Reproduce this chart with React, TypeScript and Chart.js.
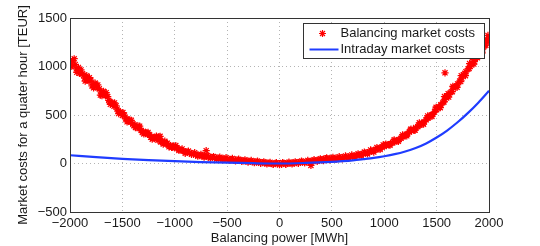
import React, { useEffect, useRef } from "react";
import { Chart, registerables } from "chart.js";

Chart.register(...registerables);

// ---- Data ----
const seriesNames = ["Balancing market costs", "Intraday market costs"];
const xTitle = "Balancing power [MWh]";
const yTitle = "Market costs for a quater hour [TEUR]";
const xTicks = [-2000, -1500, -1000, -500, 0, 500, 1000, 1500, 2000];
const yTicks = [-500, 0, 500, 1000, 1500];

const balancingPower = [
  -2000, -1980, -1960, -1940, -1920, -1900, -1880, -1860, -1840, -1820,
  -1800, -1780, -1760, -1740, -1720, -1700, -1680, -1660, -1640, -1620,
  -1600, -1580, -1560, -1540, -1520, -1500, -1480, -1460, -1440, -1420,
  -1400, -1380, -1360, -1340, -1320, -1300, -1280, -1260, -1240, -1220,
  -1200, -1180, -1160, -1140, -1120, -1100, -1080, -1060, -1040, -1020,
  -1000, -980, -960, -940, -920, -900, -880, -860, -840, -820,
  -800, -780, -760, -740, -720, -700, -680, -660, -640, -620,
  -600, -580, -560, -540, -520, -500, -480, -460, -440, -420,
  -400, -380, -360, -340, -320, -300, -280, -260, -240, -220,
  -200, -180, -160, -140, -120, -100, -80, -60, -40, -20,
  0, 20, 40, 60, 80, 100, 120, 140, 160, 180,
  200, 220, 240, 260, 280, 300, 320, 340, 360, 380,
  400, 420, 440, 460, 480, 500, 520, 540, 560, 580,
  600, 620, 640, 660, 680, 700, 720, 740, 760, 780,
  800, 820, 840, 860, 880, 900, 920, 940, 960, 980,
  1000, 1020, 1040, 1060, 1080, 1100, 1120, 1140, 1160, 1180,
  1200, 1220, 1240, 1260, 1280, 1300, 1320, 1340, 1360, 1380,
  1400, 1420, 1440, 1460, 1480, 1500, 1520, 1540, 1560, 1580,
  1600, 1620, 1640, 1660, 1680, 1700, 1720, 1740, 1760, 1780,
  1800, 1820, 1840, 1860, 1880, 1900, 1920, 1940, 1960, 1980,
  2000,
  -1990, -1950, -1910, -1870, -1830, -1790, -1750, -1710, -1670, -1630,
  -1590, -1550, -1510, -1470, -1430, -1390, -1350, -1310, -1270, -1230,
  -1190, -1150, -1110, -1070, -1030,
  1010, 1050, 1090, 1130, 1170, 1210, 1250, 1290, 1330, 1370,
  1410, 1450, 1490, 1530, 1570, 1610, 1650, 1690, 1730, 1770,
  1810, 1850, 1890, 1930, 1970,
  -1975, -1935, -1895, -1855, -1815, -1775, -1735, -1695, -1655, -1615,
  -1575, -1535, -1495, -1455, -1415, -1375, -1335, -1295, -1255, -1215,
  -1175, -1135, -1095, -1055, -1015,
  1015, 1055, 1095, 1135, 1175, 1215, 1255, 1295, 1335, 1375,
  1415, 1455, 1495, 1535, 1575, 1615, 1655, 1695, 1735, 1775,
  1815, 1855, 1895, 1935, 1975,
  -990, -960, -930, -900, -870, -840, -810, -780, -750, -720,
  -690, -660, -630, -600, -570, -540, -510, -480, -450, -420,
  -390, -360, -330, -300, -270, -240, -210, -180, -150, -120,
  -90, -60, -30, 0, 30, 60, 90, 120, 150, 180,
  210, 240, 270, 300, 330, 360, 390, 420, 450, 480,
  510, 540, 570, 600, 630, 660, 690, 720, 750, 780,
  810, 840, 870, 900, 930, 960, 990,
  -700, 300, 1580, -1140, 1990,
];

const balancingCost = [
  1050, 1010, 1080, 975, 990, 935, 925, 880, 905, 850,
  860, 815, 830, 780, 770, 735, 745, 700, 690, 640,
  625, 590, 595, 545, 530, 495, 500, 460, 445, 425,
  405, 400, 370, 365, 340, 330, 320, 300, 295, 275,
  265, 270, 240, 255, 225, 210, 205, 190, 185, 170,
  160, 165, 145, 140, 130, 120, 118, 108, 105, 95,
  92, 88, 80, 82, 75, 72, 70, 65, 62, 58,
  56, 55, 50, 52, 46, 45, 44, 40, 38, 37,
  34, 32, 30, 28, 26, 24, 22, 19, 17, 15,
  13, 10, 8, 6, 5, 3, 0, -5, 2, -3,
  0, -8, 2, -4, 5, 3, 6, 4, 9, 8,
  12, 14, 10, 18, 20, 22, 28, 30, 32, 35,
  38, 45, 50, 47, 52, 48, 50, 55, 52, 58,
  60, 62, 65, 68, 72, 75, 80, 85, 88, 95,
  100, 108, 112, 120, 128, 135, 142, 150, 160, 170,
  180, 185, 195, 205, 215, 222, 235, 245, 260, 275,
  290, 305, 325, 335, 350, 370, 380, 395, 410, 430,
  450, 470, 490, 505, 530, 555, 585, 605, 630, 660,
  690, 715, 740, 780, 790, 820, 850, 880, 915, 945,
  975, 1000, 1035, 1050, 1095, 1120, 1150, 1180, 1215, 1250,
  1290,
  1000, 1020, 930, 910, 865, 800, 800, 705, 710, 650,
  620, 560, 520, 460, 450, 390, 385, 320, 315, 270,
  255, 275, 200, 210, 165,
  190, 195, 230, 238, 275, 300, 345, 345, 395, 415,
  470, 500, 560, 580, 635, 720, 740, 800, 845, 930,
  980, 1070, 1090, 1170, 1220,
  1060, 940, 965, 850, 885, 780, 810, 700, 730, 610,
  625, 515, 525, 430, 445, 370, 385, 305, 320, 250,
  282, 222, 230, 172, 182,
  200, 188, 245, 228, 295, 285, 355, 345, 420, 405,
  490, 485, 580, 575, 690, 685, 795, 785, 905, 905,
  1030, 1025, 1150, 1140, 1275,
  185, 135, 150, 105, 128, 95, 112, 75, 95, 65,
  82, 55, 72, 45, 65, 40, 60, 35, 52, 28,
  45, 22, 38, 15, 32, 8, 25, 2, 18, -5,
  12, -10, 8, -12, 10, -8, 14, -4, 18, 2,
  25, 8, 32, 14, 40, 22, 48, 30, 58, 38,
  64, 42, 70, 48, 78, 55, 88, 66, 100, 80,
  118, 98, 140, 118, 165, 145, 192,
  132, -20, 935, 280, 1320,
];

const intradayPower = [
  -2000, -1750, -1500, -1250, -1000, -750, -500, -250, 0, 250, 500, 600,
  700, 800, 900, 1000, 1100, 1200, 1300, 1400, 1500, 1600, 1700, 1800,
  1900, 2000,
];
const intradayCost = [
  85, 65, 48, 35, 24, 15, 8, 3, 0, 6, 17, 24,
  33, 45, 58, 75, 96, 124, 160, 207, 268, 340, 425, 522,
  630, 750,
];

// ---- Styling ----
const FONT = "'Liberation Sans', Arial, Helvetica, sans-serif";
const RED = "#ff0000";
const BLUE = "#1f3cff";
const AXIS = "#333333";
const TEXT = "#1a1a1a";

const fmt = (v: number) => (v < 0 ? "\u2212" + Math.abs(v) : String(v));

const boxPlugin = {
  id: "boxAndLegend",
  afterDraw(chart: any) {
    const { ctx, chartArea } = chart;
    const { left, top, right, bottom } = chartArea;
    ctx.save();
    ctx.strokeStyle = AXIS;
    ctx.lineWidth = 1;
    ctx.setLineDash([]);
    ctx.strokeRect(
      Math.round(left) + 0.5,
      Math.round(top) + 0.5,
      Math.round(right - left),
      Math.round(bottom - top)
    );
    const w = 181;
    const h = 35;
    const lx = Math.round(right) - 5 - w + 0.5;
    const ly = Math.round(top) + 5 + 0.5;
    ctx.fillStyle = "#ffffff";
    ctx.fillRect(lx, ly, w, h);
    ctx.strokeStyle = AXIS;
    ctx.strokeRect(lx, ly, w, h);

    const y1 = ly + 10;
    const y2 = ly + 26;
    const cx = lx + 19;
    const r = 3.5;
    ctx.strokeStyle = RED;
    ctx.lineWidth = 1.2;
    ctx.beginPath();
    for (let k = 0; k < 4; k++) {
      const a = (k * Math.PI) / 4;
      ctx.moveTo(cx - r * Math.cos(a), y1 - r * Math.sin(a));
      ctx.lineTo(cx + r * Math.cos(a), y1 + r * Math.sin(a));
    }
    ctx.stroke();
    ctx.strokeStyle = BLUE;
    ctx.lineWidth = 2;
    ctx.beginPath();
    ctx.moveTo(lx + 6, y2);
    ctx.lineTo(lx + 35, y2);
    ctx.stroke();

    ctx.fillStyle = TEXT;
    ctx.font = `13px ${FONT}`;
    ctx.textBaseline = "middle";
    ctx.textAlign = "left";
    ctx.fillText(seriesNames[0], lx + 37, y1);
    ctx.fillText(seriesNames[1], lx + 37, y2);
    ctx.restore();
  },
};

export default function App() {
  const ref = useRef<HTMLCanvasElement | null>(null);

  useEffect(() => {
    if (!ref.current) return;
    const chart = new Chart(ref.current, {
      type: "scatter",
      data: {
        datasets: [
          {
            label: seriesNames[1],
            data: intradayPower.map((x, i) => ({ x, y: intradayCost[i] })),
            showLine: true,
            borderColor: BLUE,
            backgroundColor: BLUE,
            borderWidth: 2.2,
            pointRadius: 0,
            cubicInterpolationMode: "monotone",
            order: 1,
          } as any,
          {
            label: seriesNames[0],
            data: balancingPower.map((x, i) => ({ x, y: balancingCost[i] })),
            showLine: false,
            pointStyle: "star",
            pointRadius: 3.6,
            borderColor: RED,
            backgroundColor: RED,
            borderWidth: 1.25,
            order: 2,
          } as any,
        ],
      },
      options: {
        animation: false,
        responsive: true,
        maintainAspectRatio: false,
        layout: { padding: { left: 0, top: 18, right: 51, bottom: 0 } },
        plugins: {
          legend: { display: false },
          tooltip: { enabled: false },
        },
        scales: {
          x: {
            type: "linear",
            min: -2000,
            max: 2000,
            afterBuildTicks: (s: any) => {
              s.ticks = xTicks.map((v) => ({ value: v }));
            },
            afterFit: (s: any) => {
              s.height = 34;
            },
            ticks: {
              autoSkip: false,
              maxRotation: 0,
              padding: 4,
              color: TEXT,
              font: { family: FONT, size: 13 },
              callback: (v: any) => fmt(Number(v)),
            },
            grid: {
              color: "#b4b4b4",
              lineWidth: 1,
              drawTicks: false,
            },
            border: { display: false, dash: [1, 3] },
            title: {
              display: true,
              text: xTitle,
              color: TEXT,
              font: { family: FONT, size: 13 },
              padding: { top: 0, bottom: 0 },
            },
          },
          y: {
            type: "linear",
            min: -500,
            max: 1500,
            afterBuildTicks: (s: any) => {
              s.ticks = yTicks.map((v) => ({ value: v }));
            },
            afterFit: (s: any) => {
              s.width = 70;
            },
            ticks: {
              autoSkip: false,
              padding: 3,
              color: TEXT,
              font: { family: FONT, size: 13 },
              callback: (v: any) => fmt(Number(v)),
            },
            grid: {
              color: "#b4b4b4",
              lineWidth: 1,
              drawTicks: false,
            },
            border: { display: false, dash: [1, 3] },
            title: {
              display: true,
              text: yTitle,
              color: TEXT,
              font: { family: FONT, size: 13 },
              padding: { top: 16, bottom: 0 },
            },
          },
        },
      },
      plugins: [boxPlugin],
    });
    return () => chart.destroy();
  }, []);

  return (
    <div
      style={{
        position: "absolute",
        left: 0,
        top: 0,
        width: 540,
        height: 246,
        background: "#ffffff",
      }}
    >
      <canvas ref={ref} />
    </div>
  );
}
